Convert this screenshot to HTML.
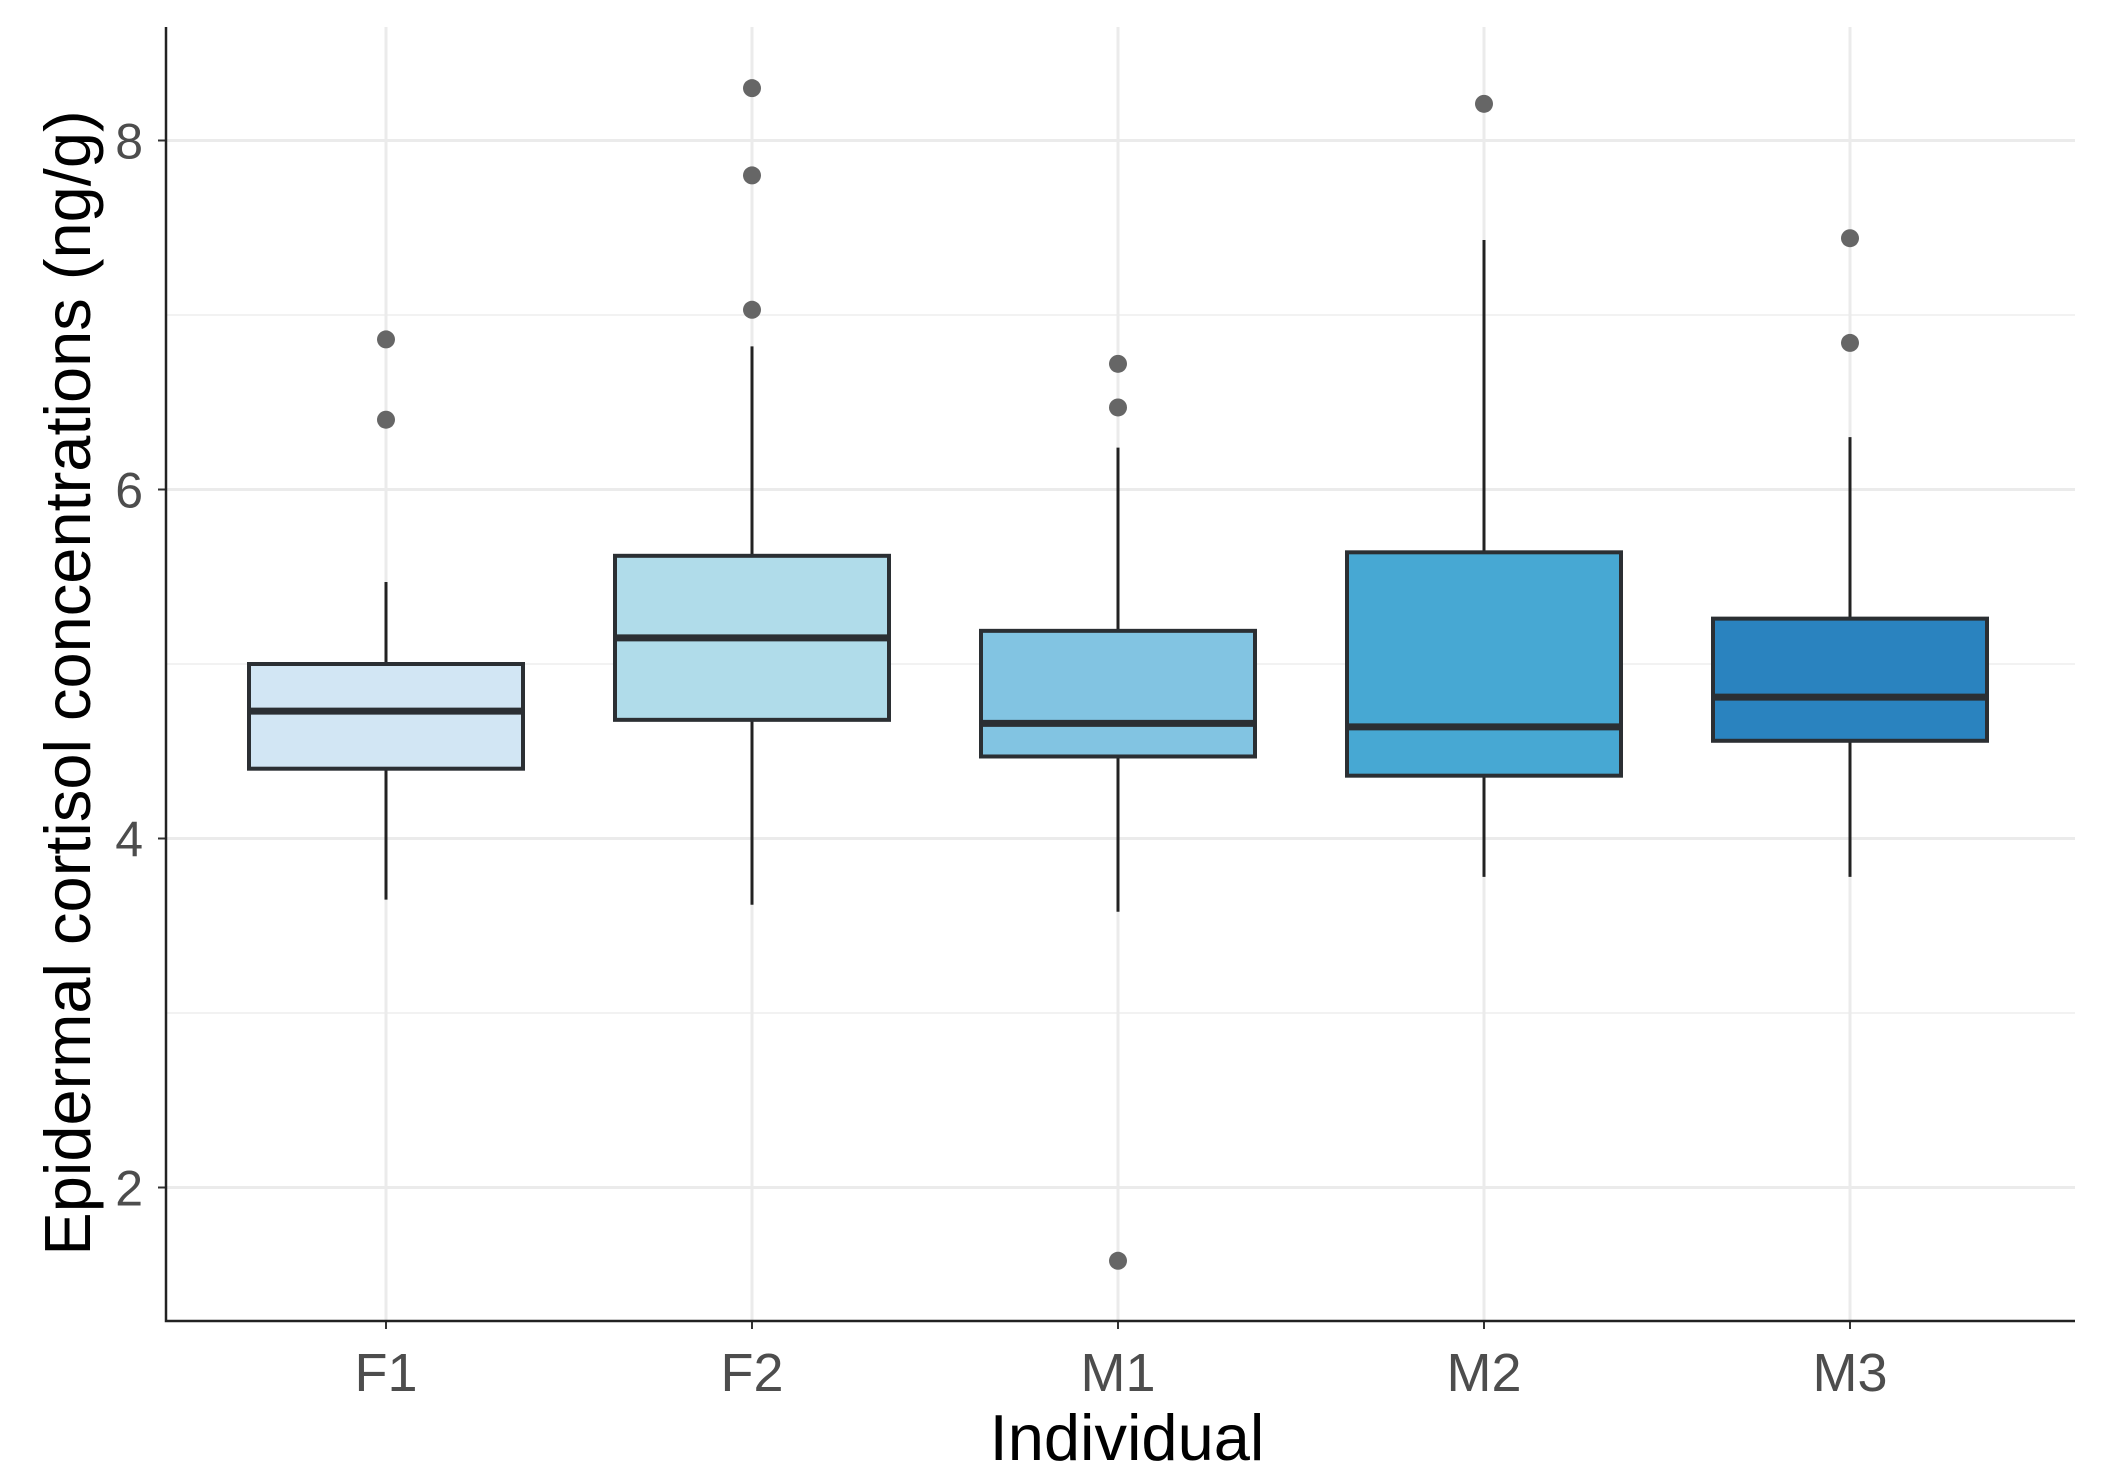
<!DOCTYPE html>
<html><head><meta charset="utf-8"><style>
body{margin:0;background:#fff}
svg{display:block;font-family:"Liberation Sans",sans-serif}
</style></head><body>
<svg id="c" width="2106" height="1481"></svg>
<script>
const categories=["F1","F2","M1","M2","M3"];
const whiskerLow=[3.65,3.62,3.58,3.78,3.78];
const q1=[4.40,4.68,4.47,4.36,4.56];
const medians=[4.73,5.15,4.66,4.64,4.81];
const q3=[5.00,5.62,5.19,5.64,5.26];
const whiskerHigh=[5.47,6.82,6.24,7.43,6.30];
const outliers=[[6.40,6.86],[7.03,7.80,8.30],[6.47,6.72,1.58],[8.21],[6.84,7.44]];
const fills=["#d2e6f4","#b0dcea","#82c4e2","#47a8d3","#2a83bf"];
const yTicks=[2,4,6,8];
const yMinor=[3,5,7];

const NS="http://www.w3.org/2000/svg";
const svg=document.getElementById("c");
const L=166,R=2075,T=27,B=1321;
const y=v=>140.5+(8-v)*174.5;
const x=i=>386+i*366;
const hw=137;
function mk(tag,attrs,parent){const e=document.createElementNS(NS,tag);for(const k in attrs)e.setAttribute(k,attrs[k]);(parent||svg).appendChild(e);return e;}

yMinor.forEach(v=>{const l=mk("line",{x1:L,x2:R,y1:y(v),y2:y(v),stroke:"#f2f2f2","stroke-width":2});

});
yTicks.forEach(v=>{const l=mk("line",{x1:L,x2:R,y1:y(v),y2:y(v),stroke:"#ebebeb","stroke-width":3});


const t=mk("text",{x:143,y:y(v)+18,"text-anchor":"end","font-size":50,fill:"#4d4d4d"});t.textContent=v;


const tk=mk("line",{x1:L-8,x2:L,y1:y(v),y2:y(v),stroke:"#333","stroke-width":2});

});
categories.forEach((c,i)=>{const l=mk("line",{x1:x(i),x2:x(i),y1:T,y2:B,stroke:"#ebebeb","stroke-width":3});

});

categories.forEach((c,i)=>{
 const g=mk("g",{});
 
 
 const w=mk("line",{x1:x(i),x2:x(i),y1:y(whiskerLow[i]),y2:y(whiskerHigh[i]),stroke:"#222","stroke-width":3},g);
 
 
 const r=mk("rect",{x:x(i)-hw,y:y(q3[i]),width:2*hw,height:y(q1[i])-y(q3[i]),fill:fills[i],stroke:"#2b2f33","stroke-width":4},g);
 
 
 const m=mk("line",{x1:x(i)-hw,x2:x(i)+hw,y1:y(medians[i]),y2:y(medians[i]),stroke:"#2b2f33","stroke-width":7},g);
 
 
 outliers[i].forEach(v=>{const p=mk("circle",{cx:x(i),cy:y(v),r:9,fill:"#666"},g);
 
 });
 const t=mk("text",{x:x(i),y:1391,"text-anchor":"middle","font-size":54,fill:"#4d4d4d"});t.textContent=c;
 
 
 const tk=mk("line",{x1:x(i),x2:x(i),y1:B,y2:B+8,stroke:"#333","stroke-width":2});
 
 
});
const ax=mk("path",{d:`M${L},${T} V${B} H${R}`,fill:"none",stroke:"#222","stroke-width":2.5});


const xt=mk("text",{x:1127,y:1460,"text-anchor":"middle","font-size":65,fill:"#000"});xt.textContent="Individual";


const yt=mk("text",{x:0,y:0,"text-anchor":"middle","font-size":65,fill:"#000",transform:"translate(90,683) rotate(-90)"});yt.textContent="Epidermal cortisol concentrations (ng/g)";


</script>
</body></html>
